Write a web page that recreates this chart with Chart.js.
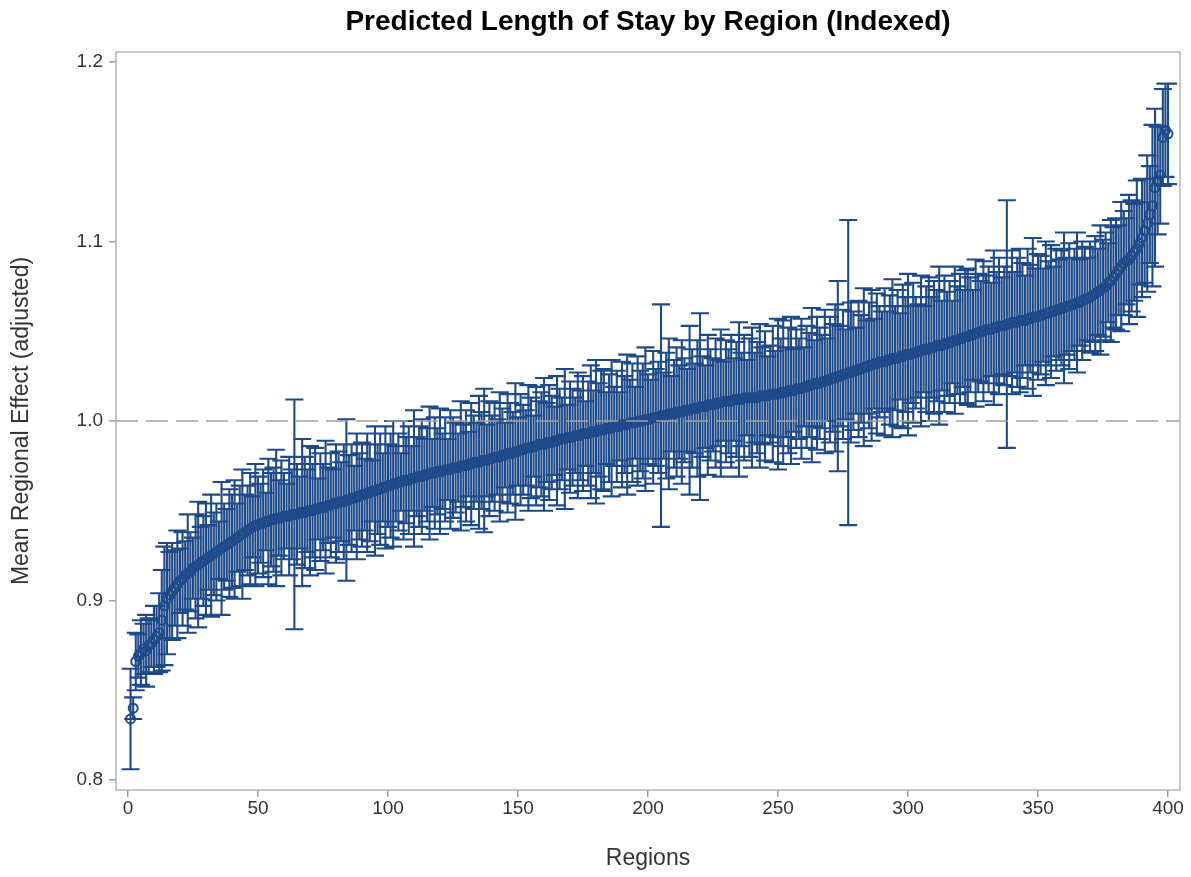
<!DOCTYPE html>
<html>
<head>
<meta charset="utf-8">
<script src="https://cdn.jsdelivr.net/npm/chart.js@4.4.0/dist/chart.umd.min.js"></script>
<style>
  body { margin: 0; background: #fff; }
</style>
</head>
<body>
<canvas id="myChart" width="1191" height="877"></canvas>
<script>
// mean regional effect per region, in thousandths (sorted, regions 1..400)
const meanVals = [
  834, 840, 866, 869, 871, 873, 872, 875, 876, 878,
  880, 882, 889, 897, 901, 903, 905, 907, 909, 911,
  912, 914, 915, 916, 918, 919, 920, 921, 922, 923,
  924, 925, 926, 927, 928, 929, 930, 931, 932, 933,
  934, 935, 936, 937, 938, 939, 940, 941, 942, 942,
  943, 943, 944, 944, 945, 945, 946, 946, 946, 947,
  947, 947, 948, 948, 948, 949, 949, 949, 950, 950,
  950, 951, 951, 952, 952, 952, 953, 953, 954, 954,
  955, 955, 955, 956, 956, 957, 957, 958, 958, 959,
  959, 960, 960, 961, 961, 962, 962, 963, 963, 964,
  964, 965, 965, 966, 966, 967, 967, 967, 968, 968,
  969, 969, 969, 970, 970, 971, 971, 971, 972, 972,
  972, 973, 973, 973, 974, 974, 974, 975, 975, 975,
  976, 976, 977, 977, 977, 978, 978, 978, 979, 979,
  980, 980, 980, 981, 981, 982, 982, 982, 983, 983,
  984, 984, 985, 985, 985, 986, 986, 987, 987, 987,
  988, 988, 988, 989, 989, 990, 990, 990, 991, 991,
  991, 992, 992, 992, 993, 993, 993, 994, 994, 994,
  995, 995, 995, 996, 996, 996, 997, 997, 997, 998,
  998, 998, 999, 999, 999, 1000, 1000, 1000, 1001, 1001,
  1001, 1002, 1002, 1002, 1003, 1003, 1003, 1004, 1004, 1004,
  1005, 1005, 1005, 1006, 1006, 1006, 1007, 1007, 1007, 1008,
  1008, 1008, 1009, 1009, 1009, 1010, 1010, 1010, 1011, 1011,
  1011, 1011, 1012, 1012, 1012, 1012, 1013, 1013, 1013, 1013,
  1013, 1013, 1014, 1014, 1014, 1014, 1015, 1015, 1015, 1015,
  1016, 1016, 1016, 1017, 1017, 1017, 1018, 1018, 1018, 1019,
  1019, 1020, 1020, 1021, 1021, 1021, 1022, 1022, 1023, 1023,
  1024, 1024, 1025, 1025, 1026, 1026, 1027, 1027, 1028, 1028,
  1029, 1029, 1030, 1030, 1031, 1031, 1032, 1032, 1033, 1033,
  1033, 1034, 1034, 1035, 1035, 1035, 1036, 1036, 1037, 1037,
  1037, 1038, 1038, 1039, 1039, 1040, 1040, 1040, 1041, 1041,
  1042, 1042, 1042, 1043, 1043, 1044, 1044, 1045, 1045, 1046,
  1046, 1047, 1047, 1048, 1048, 1049, 1049, 1050, 1050, 1051,
  1051, 1051, 1052, 1052, 1053, 1053, 1053, 1054, 1054, 1055,
  1055, 1055, 1056, 1056, 1056, 1057, 1057, 1058, 1058, 1058,
  1059, 1059, 1060, 1060, 1061, 1061, 1062, 1062, 1063, 1063,
  1064, 1064, 1065, 1065, 1066, 1066, 1067, 1068, 1068, 1069,
  1070, 1071, 1072, 1073, 1074, 1075, 1077, 1078, 1080, 1082,
  1084, 1086, 1088, 1089, 1090, 1092, 1094, 1096, 1099, 1102,
  1106, 1110, 1115, 1120, 1130, 1134, 1137, 1158, 1162, 1160
];

// half width of the error bar, in thousandths
const errVals = [
  28, 6, 16, 12, 18, 14, 20, 15, 13, 19,
  17, 22, 28, 33, 31, 24, 27, 21, 30, 18,
  26, 19, 33, 22, 17, 29, 35, 20, 25, 31,
  18, 34, 23, 27, 16, 37, 24, 20, 30, 26,
  33, 19, 28, 36, 21, 25, 31, 17, 34, 27,
  22, 30, 16, 35, 26, 29, 38, 21, 32, 24,
  18, 33, 25, 64, 28, 20, 41, 31, 23, 36,
  26, 34, 17, 30, 24, 37, 21, 29, 19, 33,
  28, 22, 32, 45, 25, 30, 18, 35, 24, 29,
  20, 33, 27, 17, 36, 25, 31, 19, 34, 23,
  29, 35, 21, 27, 16, 33, 24, 30, 18, 38,
  22, 28, 32, 20, 26, 37, 19, 31, 24, 35,
  21, 29, 17, 33, 28, 25, 19, 36, 23, 31,
  18, 34, 26, 22, 37, 27, 40, 20, 32, 24,
  30, 21, 36, 26, 18, 33, 28, 23, 38, 19,
  31, 25, 21, 35, 28, 17, 33, 24, 29, 37,
  22, 32, 26, 19, 36, 28, 23, 39, 18, 31,
  27, 21, 35, 25, 32, 18, 29, 37, 23, 40,
  26, 33, 34, 20, 30, 38, 22, 31, 19, 35,
  27, 39, 24, 33, 20, 36, 28, 32, 40, 25,
  22, 37, 27, 31, 62, 24, 35, 42, 21, 30,
  36, 26, 40, 29, 23, 47, 33, 25, 38, 52,
  28, 23, 39, 31, 26, 36, 24, 41, 22, 34,
  29, 37, 23, 32, 43, 26, 35, 21, 33, 39,
  25, 31, 40, 27, 36, 22, 27, 38, 24, 42,
  30, 40, 25, 35, 41, 23, 33, 28, 39, 22,
  34, 29, 43, 24, 37, 31, 26, 40, 23, 35,
  30, 41, 53, 28, 36, 25, 85, 39, 33, 24,
  38, 30, 44, 26, 35, 42, 25, 39, 31, 28,
  41, 27, 36, 44, 29, 38, 24, 40, 32, 45,
  27, 39, 31, 26, 42, 24, 35, 40, 28, 37,
  31, 44, 25, 38, 29, 34, 23, 41, 30, 36,
  27, 37, 38, 32, 25, 41, 33, 28, 39, 30,
  35, 26, 43, 31, 38, 27, 33, 69, 29, 40,
  28, 36, 40, 32, 25, 39, 30, 44, 27, 35,
  33, 26, 40, 29, 37, 25, 34, 28, 32, 42,
  27, 35, 26, 31, 39, 24, 33, 29, 23, 31,
  26, 32, 24, 36, 27, 30, 22, 34, 28, 31,
  25, 36, 29, 24, 36, 31, 27, 38, 23, 33,
  29, 38, 27, 45, 44, 30, 27, 27, 26, 28
];

const xTicks = [0, 50, 100, 150, 200, 250, 300, 350, 400];
const yTicks = [0.8, 0.9, 1.0, 1.1, 1.2];
const refValue = 1.0;

const blue = '#1f4a8a';
const font = "'Liberation Sans', Arial, sans-serif";

const points = meanVals.map((m, i) => ({
  x: i + 1,
  y: m / 1000,
  lo: (m - errVals[i]) / 1000,
  hi: (m + errVals[i]) / 1000
}));

// error bars (stem + caps) drawn through the chart scales
const errorBars = {
  id: 'errorBars',
  beforeDatasetsDraw(chart) {
    const { ctx, chartArea, scales: { x, y } } = chart;
    ctx.save();
    ctx.beginPath();
    ctx.rect(chartArea.left, chartArea.top, chartArea.width, chartArea.height);
    ctx.clip();
    ctx.strokeStyle = blue;
    ctx.lineWidth = 2.1;
    ctx.beginPath();
    points.forEach(p => {
      const px = x.getPixelForValue(p.x);
      const top = y.getPixelForValue(p.hi);
      const bot = y.getPixelForValue(p.lo);
      ctx.moveTo(px, top);
      ctx.lineTo(px, bot);
      ctx.moveTo(px - 9, top);
      ctx.lineTo(px + 9, top);
      ctx.moveTo(px - 9, bot);
      ctx.lineTo(px + 9, bot);
    });
    ctx.stroke();
    ctx.restore();
  },
  afterDatasetsDraw(chart) {
    const { ctx, chartArea, scales: { y } } = chart;
    const py = y.getPixelForValue(refValue);
    ctx.save();
    ctx.strokeStyle = '#a0a0a0';
    ctx.lineWidth = 1.5;
    ctx.setLineDash([22, 8]);
    ctx.beginPath();
    ctx.moveTo(chartArea.left, py);
    ctx.lineTo(chartArea.right, py);
    ctx.stroke();
    ctx.setLineDash([]);
    // frame round the plot area
    ctx.strokeStyle = '#b4b4b4';
    ctx.lineWidth = 1.5;
    ctx.strokeRect(chartArea.left, chartArea.top, chartArea.width, chartArea.height);
    ctx.restore();
  }
};

const ctx = document.getElementById('myChart');
const chart = new Chart(ctx, {
  type: 'scatter',
  data: {
    datasets: [{
      label: 'Mean',
      data: points,
      pointStyle: 'circle',
      pointRadius: 4.5,
      pointBorderWidth: 2,
      borderColor: blue,
      backgroundColor: 'rgba(0,0,0,0)',
      pointHoverRadius: 4.5
    }]
  },
  options: {
    responsive: false,
    animation: false,
    layout: { padding: { left: 0, right: 11, top: 0, bottom: 0 } },
    plugins: {
      legend: { display: false },
      tooltip: { enabled: false },
      title: {
        display: true,
        fullSize: false,
        text: 'Predicted Length of Stay by Region (Indexed)',
        color: '#000',
        font: { family: font, size: 28, weight: 'bold' },
        padding: { top: 5, bottom: 13.4 }
      }
    },
    scales: {
      x: {
        type: 'linear',
        min: -4.6,
        max: 404.6,
        afterBuildTicks: s => { s.ticks = xTicks.map(v => ({ value: v })); },
        afterFit: s => { s.height = 87; },
        grid: { display: true, drawOnChartArea: false, drawTicks: true, tickLength: 7, color: '#a0a0a0', lineWidth: 1.5 },
        border: { display: false },
        ticks: { color: '#333', font: { family: font, size: 19 }, padding: 0, maxRotation: 0 },
        title: {
          display: true,
          text: 'Regions',
          color: '#333',
          font: { family: font, size: 23 },
          padding: { top: 0, bottom: 5 }
        }
      },
      y: {
        min: 0.7944,
        max: 1.2056,
        afterBuildTicks: s => { s.ticks = yTicks.map(v => ({ value: v })); },
        afterFit: s => { s.width = 116; },
        grid: { display: true, drawOnChartArea: false, drawTicks: true, tickLength: 7, color: '#a0a0a0', lineWidth: 1.5 },
        border: { display: false },
        ticks: {
          color: '#333',
          font: { family: font, size: 19 },
          padding: 6,
          callback: v => v.toFixed(1)
        },
        title: {
          display: true,
          text: 'Mean Regional Effect (adjusted)',
          color: '#333',
          font: { family: font, size: 23 },
          padding: { top: 8, bottom: 0 }
        }
      }
    }
  },
  plugins: [errorBars]
});
</script>
</body>
</html>
